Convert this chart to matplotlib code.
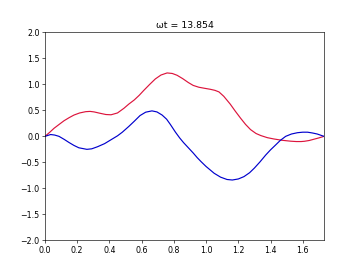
import numpy as np
import matplotlib
matplotlib.use("Agg")
import matplotlib.pyplot as plt

title = "ωt = 13.854"

red_x = [0.00, 0.03, 0.056, 0.09, 0.118, 0.15, 0.18, 0.215, 0.253, 0.28, 0.305, 0.34, 0.378,
         0.41, 0.45, 0.49, 0.52, 0.554, 0.585, 0.612, 0.65, 0.685, 0.72, 0.758, 0.79, 0.82, 0.855,
         0.89, 0.92, 0.955, 0.99, 1.027, 1.055, 1.08, 1.11, 1.15, 1.18, 1.214, 1.245, 1.276,
         1.31, 1.34, 1.38, 1.42, 1.47, 1.525, 1.56, 1.59, 1.61, 1.64, 1.67, 1.70, 1.732]
red_y = [0.00, 0.08, 0.155, 0.235, 0.30, 0.36, 0.41, 0.45, 0.475, 0.48, 0.47, 0.445, 0.42,
         0.415, 0.45, 0.54, 0.62, 0.70, 0.79, 0.88, 1.00, 1.105, 1.18, 1.22, 1.21, 1.175, 1.11,
         1.035, 0.98, 0.945, 0.925, 0.905, 0.885, 0.855, 0.77, 0.62, 0.49, 0.35, 0.23, 0.13,
         0.055, 0.015, -0.025, -0.05, -0.075, -0.093, -0.10, -0.10, -0.095, -0.08, -0.055, -0.03, 0.00]

blue_x = [0.00, 0.035, 0.06, 0.087, 0.12, 0.15, 0.18, 0.21, 0.26, 0.29, 0.326, 0.37, 0.41,
          0.45, 0.48, 0.52, 0.554, 0.59, 0.625, 0.664, 0.695, 0.727, 0.755, 0.778, 0.81, 0.836,
          0.86, 0.89, 0.92, 0.945, 0.97, 1.00, 1.027, 1.05, 1.09, 1.13, 1.163, 1.20, 1.235,
          1.27, 1.30, 1.335, 1.37, 1.40, 1.432, 1.46, 1.494, 1.53, 1.567, 1.60, 1.63, 1.66,
          1.69, 1.732]
blue_y = [0.00, 0.035, 0.025, 0.00, -0.06, -0.12, -0.175, -0.22, -0.25, -0.24, -0.20, -0.14, -0.065,
          0.01, 0.08, 0.19, 0.29, 0.40, 0.465, 0.49, 0.47, 0.41, 0.33, 0.23, 0.08, -0.03,
          -0.12, -0.22, -0.32, -0.41, -0.49, -0.58, -0.65, -0.71, -0.785, -0.83, -0.84, -0.82, -0.775,
          -0.70, -0.61, -0.49, -0.36, -0.26, -0.165, -0.08, 0.00, 0.045, 0.07, 0.08, 0.08, 0.065,
          0.045, 0.00]

fig, ax = plt.subplots(figsize=(6.4, 4.8), dpi=56.25)
ax.plot(red_x, red_y, color="crimson")
ax.plot(blue_x, blue_y, color="mediumblue")
ax.set_xlim(0, np.sqrt(3))
ax.set_ylim(-2, 2)
ax.set_title(title)
fig.savefig("out.png", dpi=56.25)
